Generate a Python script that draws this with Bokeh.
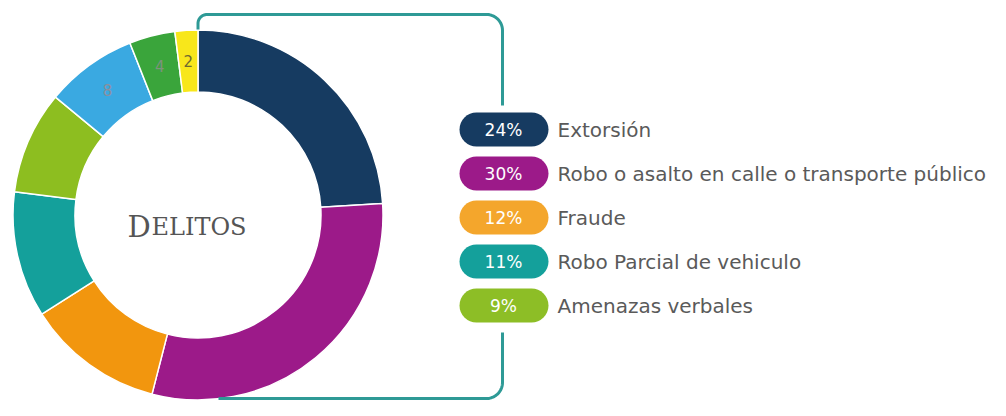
import numpy as np
from bokeh.plotting import figure
from bokeh.models import Range1d, ColumnDataSource
from bokeh.core.properties import value
from bokeh.embed import file_html
from bokeh.resources import INLINE

# ---- data ----
categories = ["Extorsión", "Robo o asalto en calle o transporte público", "Fraude",
              "Robo Parcial de vehiculo", "Amenazas verbales", "Otro 1", "Otro 2", "Otro 3"]
values = [24, 30, 12, 11, 9, 8, 4, 2]
colors = ["#163b61", "#9c1a89", "#f2960e", "#14a09b", "#8dbe20", "#3aa9e1", "#3aa53b", "#f8e71b"]
pill_colors = ["#163b61", "#9c1a89", "#f4a62c", "#14a09b", "#8dbe26"]
legend_count = 5
slice_labels = ["", "", "", "", "", "8", "4", "2"]
slice_label_colors = ["#888888", "#888888", "#888888", "#888888", "#888888", "#8a8f9e", "#7d927d", "#6e6a30"]
center_title = ("D", "ELITOS")

W, H = 990, 400
OFF = 3  # vertical offset of the view in reference pixel space
p = figure(width=W, height=H, output_backend="svg", toolbar_location=None,
           x_range=Range1d(0, W), y_range=Range1d(416 - OFF - H, 416 - OFF),
           x_axis_location=None, y_axis_location=None, min_border=0)
p.grid.visible = False
p.outline_line_color = None
p.background_fill_color = "white"
p.border_fill_color = "white"

def Y(img_y):
    return 416 - img_y

# ---- donut ----
cx, cy = 197.5, Y(217.5)
r_in, r_out = 123, 185
vals = np.array(values, dtype=float)
frac = vals / vals.sum()
cum_end = np.cumsum(frac)
cum_start = cum_end - frac
start = np.pi / 2 - 2 * np.pi * cum_start
end = np.pi / 2 - 2 * np.pi * cum_end
src = ColumnDataSource(dict(start=start, end=end, color=colors))
p.annular_wedge(x=cx, y=cy, inner_radius=r_in, outer_radius=r_out,
                start_angle="start", end_angle="end", direction="clock",
                fill_color="color", line_color="white", line_width=1.5, source=src)

mid = np.pi / 2 - 2 * np.pi * (cum_start + cum_end) / 2
r_mid = (r_in + r_out) / 2
lab_src = ColumnDataSource(dict(x=cx + r_mid * np.cos(mid), y=cy + r_mid * np.sin(mid),
                                t=slice_labels, c=slice_label_colors))
p.text(x="x", y="y", text="t", text_color="c", text_align="center", text_baseline="middle",
       text_font=value("DejaVu Sans"), text_font_size="15px", source=lab_src)

# ---- center title (small caps) ----
p.text(x=[127], y=[Y(229)], text=[center_title[0]], text_font=value("DejaVu Serif"),
       text_font_size="29px", text_color="#555555", text_baseline="alphabetic", text_align="left")
p.text(x=[151], y=[Y(229)], text=[center_title[1]], text_font=value("DejaVu Serif"),
       text_font_size="24px", text_color="#555555", text_baseline="alphabetic", text_align="left")

# ---- legend pills ----
row_y = [Y(132 + 44 * i) for i in range(legend_count)]
pct = [f"{v}%" for v in values[:legend_count]]
pill_src = ColumnDataSource(dict(y=row_y, color=pill_colors, pct=pct, name=categories[:legend_count]))
p.hbar(y="y", left=459, right=548, height=34, fill_color="color", line_color=None,
       border_radius=17, source=pill_src)
p.text(x=503, y="y", text="pct", text_color="white", text_align="center", text_baseline="middle",
       text_font=value("DejaVu Sans"), text_font_size="17px", source=pill_src)
p.text(x=557, y="y", text="name", text_color="#5a5a5a", text_align="left", text_baseline="middle",
       text_font=value("DejaVu Sans"), text_font_size="20px", source=pill_src)

# ---- bracket ----
def arc_pts(xc, yc, r, a0, a1, n=16):
    a = np.linspace(a0, a1, n)
    return list(xc + r * np.cos(a)), list(yc + r * np.sin(a))

lc = "#2e9a96"
# top bracket
xs, ys = [197.5], [Y(32)]
ax, ay = arc_pts(206.5, Y(26), 9, np.pi, np.pi / 2)
xs += ax; ys += ay
ax, ay = arc_pts(486, Y(33), 16, np.pi / 2, 0)
xs += ax; ys += ay
xs += [502]; ys += [Y(108)]
p.line(xs, ys, line_color=lc, line_width=3)
# bottom bracket
xs, ys = [502], [Y(335)]
ax, ay = arc_pts(486, Y(385), 16, 0, -np.pi / 2)
xs += ax; ys += ay
xs += [218]; ys += [Y(401)]
p.line(xs, ys, line_color=lc, line_width=3)

open("out.html", "w").write(file_html(p, INLINE))
